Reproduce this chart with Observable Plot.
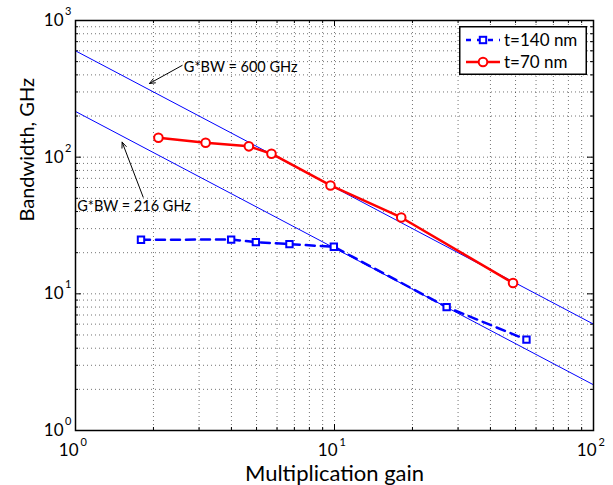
<!DOCTYPE html>
<html>
<head>
<meta charset="utf-8">
<script src="https://cdn.jsdelivr.net/npm/d3@7"></script>
<script src="https://cdn.jsdelivr.net/npm/@observablehq/plot@0.6"></script>
<style>
  html, body { margin: 0; padding: 0; background: #fff; }
  #wrap { position: relative; width: 613px; height: 485px; font-family: Lato, sans-serif; }
  #legend { position: absolute; left: 459px; top: 26px; }
</style>
</head>
<body>
<div id="wrap"></div>
<script>
// ---- data ----
const xMajor = [1, 10, 100];
const yMajor = [1, 10, 100, 1000];
const xMinor = [2, 3, 4, 5, 6, 7, 8, 9, 20, 30, 40, 50, 60, 70, 80, 90];
const yMinor = [2, 3, 4, 5, 6, 7, 8, 9, 20, 30, 40, 50, 60, 70, 80, 90, 200, 300, 400, 500, 600, 700, 800, 900];
const xTickExp = ["0", "1", "2"];
const yTickExp = ["0", "1", "2", "3"];

const gain140 = [1.79, 3.99, 4.97, 6.70, 9.94, 27.1, 55.1];
const bw140   = [24.9, 24.95, 23.9, 23.1, 22.1, 8.0, 4.62];
const gain70  = [2.09, 3.18, 4.67, 5.71, 9.65, 18.1, 48.9];
const bw70    = [138.6, 127.4, 120, 106, 62.1, 36.2, 12.0];

const gbProducts = [600, 216];
const gbGainRange = [1, 100];

const annotText  = ["G*BW = 600 GHz", "G*BW = 216 GHz"];
const annotX     = [2.62, 1.015];
const annotY     = [453, 43.5];
const arrowX1    = [2.58, 1.825];
const arrowY1    = [469, 51];
const arrowX2    = [1.93, 1.514];
const arrowY2    = [346, 128.8];

const seriesNames = ["t=140 nm", "t=70 nm"];

// ---- tables ----
const s140 = gain140.map((g, i) => ({g, bw: bw140[i]}));
const s70 = gain70.map((g, i) => ({g, bw: bw70[i]}));
const gbLines = gbProducts.flatMap(p => gbGainRange.map(g => ({p, g, bw: p / g})));
const annots = annotText.map((t, i) => ({t, x: annotX[i], y: annotY[i], x1: arrowX1[i], y1: arrowY1[i], x2: arrowX2[i], y2: arrowY2[i]}));
const xLab = xMajor.map((v, i) => ({v, e: xTickExp[i]}));
const yLab = yMajor.map((v, i) => ({v, e: yTickExp[i]}));

const gridStyle = {stroke: "#000", strokeOpacity: 0.55, strokeDasharray: "1,3", strokeWidth: 1};
const innerH = 485 - 20 - 55, innerW = 613 - 75 - 20;

const chart = Plot.plot({
  width: 613,
  height: 485,
  marginLeft: 75,
  marginRight: 20,
  marginTop: 20,
  marginBottom: 55,
  style: {fontFamily: "Lato, sans-serif", background: "white", color: "black"},
  x: {type: "log", domain: [1, 100], axis: null},
  y: {type: "log", domain: [1, 1000], axis: null},
  marks: [
    // grid
    Plot.ruleX(xMinor.concat(xMajor), {x: d => d, ...gridStyle}),
    Plot.ruleY(yMinor.concat(yMajor), {y: d => d, ...gridStyle}),
    // inner ticks
    Plot.ruleX(xMajor, {x: d => d, insetTop: innerH - 6, stroke: "black"}),
    Plot.ruleX(xMajor, {x: d => d, insetBottom: innerH - 6, stroke: "black"}),
    Plot.ruleX(xMinor, {x: d => d, insetTop: innerH - 3, stroke: "black"}),
    Plot.ruleX(xMinor, {x: d => d, insetBottom: innerH - 3, stroke: "black"}),
    Plot.ruleY(yMajor, {y: d => d, insetRight: innerW - 6, stroke: "black"}),
    Plot.ruleY(yMajor, {y: d => d, insetLeft: innerW - 6, stroke: "black"}),
    Plot.ruleY(yMinor, {y: d => d, insetRight: innerW - 3, stroke: "black"}),
    Plot.ruleY(yMinor, {y: d => d, insetLeft: innerW - 3, stroke: "black"}),
    // G*BW lines
    Plot.line(gbLines, {x: "g", y: "bw", z: "p", stroke: "#0000ff", strokeWidth: 1}),
    // data series
    Plot.line(s140, {x: "g", y: "bw", stroke: "#0000ff", strokeWidth: 2.5, strokeDasharray: "9,6"}),
    Plot.dot(s140, {x: "g", y: "bw", symbol: "square", r: 3.6, stroke: "#0000ff", strokeWidth: 2, fill: "white"}),
    Plot.line(s70, {x: "g", y: "bw", stroke: "#ff0000", strokeWidth: 2.5}),
    Plot.dot(s70, {x: "g", y: "bw", r: 4.3, stroke: "#ff0000", strokeWidth: 2, fill: "white"}),
    // annotations
    Plot.arrow(annots, {x1: "x1", y1: "y1", x2: "x2", y2: "y2", stroke: "black", strokeWidth: 1, headLength: 9, headAngle: 45}),
    Plot.text(annots, {x: "x", y: "y", text: "t", textAnchor: "start", fontSize: 14.5, fill: "black"}),
    // frame
    Plot.frame({stroke: "black", strokeWidth: 1.5}),
    // tick labels x
    Plot.text(xLab, {x: "v", text: () => "10", frameAnchor: "bottom", textAnchor: "end", lineAnchor: "bottom", dx: 3, dy: 25, fontSize: 17, fill: "black"}),
    Plot.text(xLab, {x: "v", text: "e", frameAnchor: "bottom", textAnchor: "start", lineAnchor: "bottom", dx: 5, dy: 15, fontSize: 11, fill: "black"}),
    // tick labels y
    Plot.text(yLab, {y: "v", text: () => "10", frameAnchor: "left", textAnchor: "end", lineAnchor: "middle", dx: -12, fontSize: 17, fill: "black"}),
    Plot.text(yLab, {y: "v", text: "e", frameAnchor: "left", textAnchor: "end", lineAnchor: "middle", dx: -4, dy: -9, fontSize: 11, fill: "black"}),
    // axis labels
    Plot.text(["Multiplication gain"], {frameAnchor: "bottom", lineAnchor: "bottom", dy: 50, fontSize: 22, fill: "black"}),
    Plot.text(["Bandwidth, GHz"], {frameAnchor: "left", rotate: -90, lineAnchor: "middle", dx: -48, dy: -4, fontSize: 20, fill: "black"})
  ]
});

const wrap = document.getElementById("wrap");
wrap.appendChild(chart);

// legend
const legend = document.createElement("div");
legend.id = "legend";
const lw = 128, lh = 49;
const ls = d3.create("svg").attr("width", lw).attr("height", lh).style("display", "block");
ls.append("rect").attr("x", 0.75).attr("y", 0.75).attr("width", lw - 1.5).attr("height", lh - 1.5)
  .attr("fill", "white").attr("stroke", "black").attr("stroke-width", 1.5);
const rows = [
  {name: seriesNames[0], color: "#0000ff", dash: "9,6", sym: "square", y: 14},
  {name: seriesNames[1], color: "#ff0000", dash: null, sym: "circle", y: 36}
];
rows.forEach(r => {
  const ln = ls.append("line").attr("x1", 7).attr("x2", 41).attr("y1", r.y).attr("y2", r.y)
    .attr("stroke", r.color).attr("stroke-width", 2.5);
  if (r.dash) ln.attr("stroke-dasharray", "5,6").attr("stroke-dashoffset", 0);
  if (r.sym === "square") {
    ls.append("rect").attr("x", 24 - 3.2).attr("y", r.y - 3.2).attr("width", 6.4).attr("height", 6.4)
      .attr("fill", "white").attr("stroke", r.color).attr("stroke-width", 2);
  } else {
    ls.append("circle").attr("cx", 24).attr("cy", r.y).attr("r", 4.3)
      .attr("fill", "white").attr("stroke", r.color).attr("stroke-width", 2);
  }
  ls.append("text").attr("x", 45).attr("y", r.y).attr("dy", "0.35em")
    .attr("font-family", "Lato, sans-serif").attr("font-size", 17).attr("fill", "black").text(r.name);
});
legend.appendChild(ls.node());
wrap.appendChild(legend);
</script>
</body>
</html>
